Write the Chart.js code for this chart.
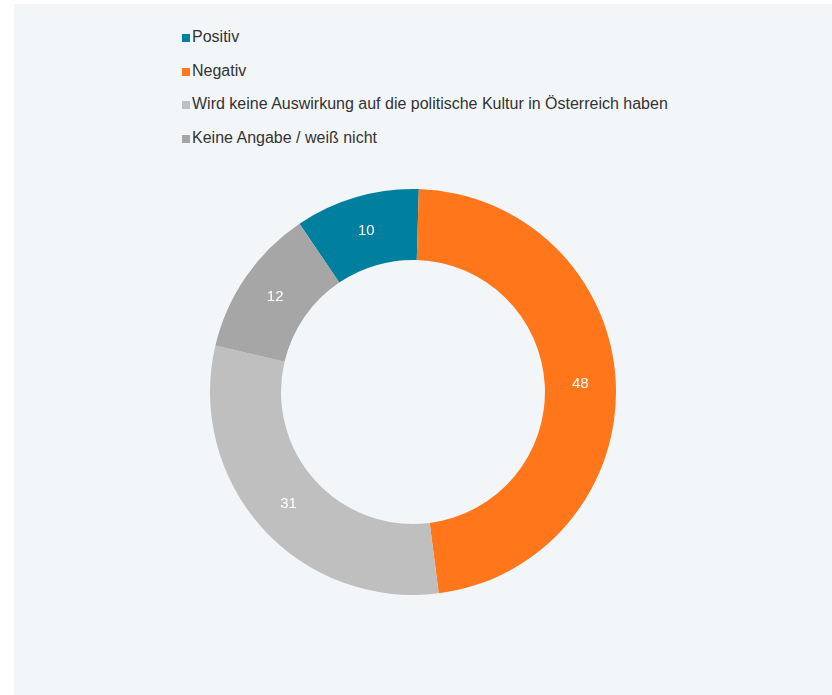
<!DOCTYPE html>
<html>
<head>
<meta charset="utf-8">
<script src="https://cdn.jsdelivr.net/npm/chart.js@4"></script>
<style>
  body { margin: 0; background: #ffffff; font-family: Arial, "Liberation Sans", sans-serif; }
  #panel { position: absolute; left: 14px; top: 4px; width: 818px; height: 691px; background: #f2f6f9; }
  #legend { position: absolute; left: 182px; top: 28px; }
  .item { height: 33.5px; display: flex; align-items: flex-start; font-size: 16px; line-height: 18px; color: #333333; }
  .box { width: 8px; height: 8px; margin-top: 6px; margin-right: 2px; flex: none; }
  #wrap { position: absolute; left: 209.5px; top: 189px; width: 406px; height: 406px; }
</style>
</head>
<body>
<div id="panel"></div>
<div id="legend"></div>
<div id="wrap"><canvas id="chart"></canvas></div>
<script>
let categories = ["Positiv", "Negativ", "Wird keine Auswirkung auf die politische Kultur in Österreich haben", "Keine Angabe / weiß nicht"]
let values = [10, 48, 31, 12]
let colors = ["#007f9f", "#ff761b", "#bfbfbf", "#a6a6a6"]

let legend = document.getElementById('legend')
categories.forEach((c, i) => {
    let row = document.createElement('div')
    row.className = 'item'
    let box = document.createElement('span')
    box.className = 'box'
    box.style.background = colors[i]
    row.appendChild(box)
    row.appendChild(document.createTextNode(c))
    legend.appendChild(row)
})

// white numbers in the middle of each ring segment
const sliceLabels = {
    id: 'sliceLabels',
    afterDatasetsDraw(chart) {
        let ctx = chart.ctx
        let meta = chart.getDatasetMeta(0)
        ctx.save()
        ctx.font = '15px Arial, "Liberation Sans", sans-serif'
        ctx.fillStyle = '#ffffff'
        ctx.textAlign = 'center'
        ctx.textBaseline = 'middle'
        meta.data.forEach((arc, i) => {
            let p = arc.tooltipPosition()
            ctx.fillText(values[i], p.x, p.y)
        })
        ctx.restore()
    }
}

new Chart(document.getElementById('chart'), {
    type: 'doughnut',
    data: {
        labels: categories,
        datasets: [{
            data: values,
            backgroundColor: colors,
            borderWidth: 0,
            hoverOffset: 0
        }]
    },
    options: {
        responsive: true,
        maintainAspectRatio: false,
        animation: false,
        cutout: '65%',
        rotation: -34,
        plugins: {
            legend: { display: false },
            tooltip: { enabled: false }
        }
    },
    plugins: [sliceLabels]
})
</script>
</body>
</html>
